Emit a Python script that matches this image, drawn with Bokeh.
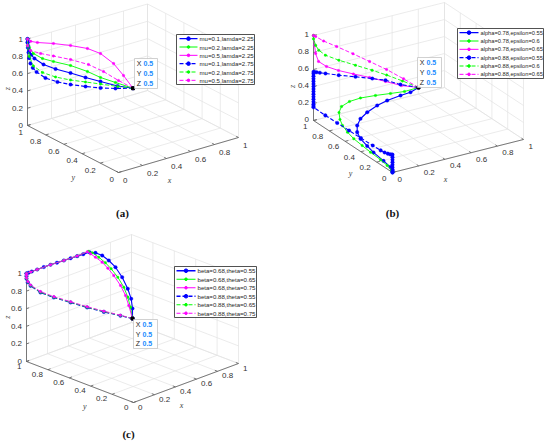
import math
from bokeh.plotting import figure
from bokeh.models import Range1d
from bokeh.embed import file_html
from bokeh.resources import INLINE
from bokeh.core.properties import value

# ---------------- data ----------------
TICKS = [0.0, 0.2, 0.4, 0.6, 0.8, 1.0]
TICK_LABELS = ["0", "0.2", "0.4", "0.6", "0.8", "1"]
END_POINT = (0.5, 0.5, 0.5)
TIP_NAMES = ["X", "Y", "Z"]
TIP_VALUES = ["0.5", "0.5", "0.5"]

# panel (a)
A_LABELS = ["mu=0.1,lamda=2.25", "mu=0.2,lamda=2.25", "mu=0.5,lamda=2.25",
            "mu=0.1,lamda=2.75", "mu=0.2,lamda=2.75", "mu=0.5,lamda=2.75"]
a_mu01_l225 = dict(x=[0.5, 0.427, 0.346, 0.275, 0.204, 0.133, 0.076, 0.033, 0.018, 0.009, 0.004, 0.001, 0.0],
                   y=[0.5, 0.573, 0.654, 0.725, 0.796, 0.867, 0.924, 0.967, 0.982, 0.991, 0.996, 0.999, 1.0],
                   z=[0.5, 0.516, 0.557, 0.593, 0.635, 0.672, 0.716, 0.779, 0.82, 0.868, 0.92, 0.96, 1.0])
a_mu02_l225 = dict(x=[0.5, 0.417, 0.346, 0.284, 0.204, 0.123, 0.071, 0.028, 0.009, 0.0],
                   y=[0.5, 0.583, 0.654, 0.716, 0.796, 0.877, 0.929, 0.972, 0.991, 1.0],
                   z=[0.5, 0.555, 0.603, 0.664, 0.722, 0.757, 0.784, 0.836, 0.903, 1.0])
a_mu05_l225 = dict(x=[0.5, 0.455, 0.408, 0.346, 0.284, 0.204, 0.123, 0.047, 0.015, 0.0],
                   y=[0.5, 0.545, 0.592, 0.654, 0.716, 0.796, 0.877, 0.953, 0.985, 1.0],
                   z=[0.5, 0.641, 0.773, 0.880, 0.930, 0.953, 0.965, 0.966, 0.975, 1.0])
a_mu01_l275 = dict(x=[0.5, 0.417, 0.346, 0.275, 0.204, 0.142, 0.085, 0.043, 0.025, 0.014, 0.008, 0.005, 0.002, 0.0, 0.0],
                   y=[0.5, 0.583, 0.654, 0.725, 0.796, 0.858, 0.915, 0.957, 0.975, 0.986, 0.992, 0.995, 0.998, 1.0, 1.0],
                   z=[0.5, 0.486, 0.482, 0.489, 0.502, 0.523, 0.561, 0.625, 0.67, 0.719, 0.78, 0.845, 0.9, 0.96, 1.0])
a_mu02_l275 = dict(x=[0.5, 0.427, 0.346, 0.275, 0.204, 0.133, 0.071, 0.028, 0.009, 0.0, 0.0],
                   y=[0.5, 0.573, 0.654, 0.725, 0.796, 0.867, 0.929, 0.972, 0.991, 1.0, 1.0],
                   z=[0.5, 0.510, 0.528, 0.541, 0.554, 0.579, 0.623, 0.692, 0.799, 0.925, 1.0])
a_mu05_l275 = dict(x=[0.5, 0.431, 0.360, 0.289, 0.204, 0.123, 0.062, 0.014, 0.0, 0.0],
                   y=[0.5, 0.569, 0.640, 0.711, 0.796, 0.877, 0.938, 0.986, 1.0, 1.0],
                   z=[0.5, 0.580, 0.674, 0.745, 0.791, 0.821, 0.841, 0.869, 0.925, 1.0])

# panel (b)
B_LABELS = ["alpha=0.78,epsilon=0.55", "alpha=0.78,epsilon=0.6", "alpha=0.78,epsilon=0.65",
            "alpha=0.88,epsilon=0.55", "alpha=0.88,epsilon=0.6", "alpha=0.88,epsilon=0.65"]
b_a078_e055 = dict(x=[0.5, 0.4, 0.3, 0.2, 0.14, 0.09, 0.06, 0.04, 0.03, 0.02, 0.015, 0.01, 0.005, 0.002, 0.0, 0.0, 0.0],
                   y=[0.5, 0.435, 0.396, 0.399, 0.426, 0.469, 0.505, 0.513, 0.497, 0.438, 0.345, 0.257, 0.122, 0.029, 0.0, 0.0, 0.0],
                   z=[0.5, 0.523, 0.547, 0.526, 0.473, 0.387, 0.300, 0.223, 0.159, 0.120, 0.095, 0.075, 0.06, 0.045, 0.03, 0.015, 0.0])
b_a078_e06 = dict(x=[0.5, 0.38, 0.28, 0.2, 0.13, 0.08, 0.05, 0.03, 0.02, 0.015, 0.01, 0.008, 0.006, 0.004, 0.002, 0.001, 0.0, 0.0],
                  y=[0.5, 0.478, 0.49, 0.547, 0.621, 0.677, 0.728, 0.727, 0.698, 0.658, 0.586, 0.503, 0.394, 0.285, 0.155, 0.069, 0.013, 0.0],
                  z=[0.5, 0.513, 0.521, 0.494, 0.446, 0.390, 0.312, 0.250, 0.189, 0.145, 0.112, 0.086, 0.074, 0.063, 0.055, 0.040, 0.02, 0.0])
b_a078_e065 = dict(x=[0.5, 0.419, 0.343, 0.267, 0.19, 0.119, 0.062, 0.024, 0.01, 0.005, 0.0],
                   y=[0.5, 0.581, 0.657, 0.733, 0.81, 0.881, 0.938, 0.976, 0.99, 0.995, 1.0],
                   z=[0.5, 0.505, 0.536, 0.566, 0.590, 0.615, 0.649, 0.700, 0.790, 0.884, 1.0])
b_a088_e055 = dict(
    x=[0.5, 0.414, 0.343, 0.28, 0.2, 0.12, 0.057, 0.03, 0.015, 0.005, 0.0,
       0.0, 0.0, 0.0, 0.0, 0.0, 0.0, 0.0, 0.0, 0.0, 0.0, 0.0, 0.0, 0.0, 0.0, 0.0,
       0.0, 0.0, 0.0, 0.0, 0.0, 0.0, 0.0, 0.0, 0.0, 0.0, 0.0,
       0.0, 0.0, 0.0, 0.0, 0.0, 0.0, 0.0],
    y=[0.5, 0.586, 0.657, 0.72, 0.8, 0.88, 0.943, 0.97, 0.985, 0.995, 1.0,
       1.0, 1.0, 1.0, 1.0, 1.0, 1.0, 1.0, 1.0, 1.0, 1.0, 1.0, 1.0, 1.0, 1.0, 1.0,
       0.85, 0.7, 0.55, 0.4, 0.25, 0.15, 0.1, 0.06, 0.03, 0.01, 0.0,
       0.0, 0.0, 0.0, 0.0, 0.0, 0.0, 0.0],
    z=[0.5, 0.516, 0.551, 0.556, 0.559, 0.56, 0.566, 0.569, 0.571, 0.572, 0.572,
       0.55, 0.52, 0.49, 0.46, 0.43, 0.40, 0.37, 0.34, 0.31, 0.28, 0.25, 0.22, 0.19, 0.17, 0.155,
       0.152, 0.155, 0.158, 0.16, 0.164, 0.168, 0.175, 0.185, 0.195, 0.205, 0.21,
       0.18, 0.15, 0.12, 0.09, 0.06, 0.03, 0.0])
b_a088_e06 = dict(x=[0.5, 0.424, 0.348, 0.279, 0.2, 0.121, 0.057, 0.025, 0.01, 0.0, 0.0],
                  y=[0.5, 0.576, 0.652, 0.721, 0.8, 0.879, 0.943, 0.975, 0.99, 1.0, 1.0],
                  z=[0.5, 0.560, 0.613, 0.654, 0.695, 0.736, 0.781, 0.833, 0.888, 0.96, 1.0])
b_a088_e065 = dict(x=[0.5, 0.429, 0.348, 0.267, 0.188, 0.11, 0.048, 0.01, 0.0],
                   y=[0.5, 0.571, 0.652, 0.733, 0.812, 0.89, 0.952, 0.99, 1.0],
                   z=[0.5, 0.586, 0.678, 0.754, 0.827, 0.895, 0.946, 0.990, 1.0])

# panel (c)
C_LABELS = ["beta=0.68,theta=0.55", "beta=0.68,theta=0.65", "beta=0.68,theta=0.75",
            "beta=0.88,theta=0.55", "beta=0.88,theta=0.65", "beta=0.88,theta=0.75"]
c_b068_t055 = dict(x=[0.5, 0.5, 0.51, 0.52, 0.53, 0.55, 0.58, 0.6, 0.6, 0.6, 0.54, 0.483, 0.42, 0.356, 0.29, 0.229, 0.165, 0.102, 0.05, 0.02, 0.0],
                   y=[0.5, 0.5, 0.522, 0.564, 0.626, 0.708, 0.80, 0.881, 0.944, 1.0, 1.0, 1.0, 1.0, 1.0, 1.0, 1.0, 1.0, 1.0, 1.0, 1.0, 1.0],
                   z=[0.5, 0.614, 0.709, 0.799, 0.897, 0.964, 0.984, 0.994, 0.995, 0.976, 0.98, 0.983, 0.987, 0.99, 0.994, 0.998, 1.0, 1.0, 1.0, 1.0, 1.0])
c_b068_t065 = dict(x=[0.5, 0.5, 0.5, 0.51, 0.52, 0.53, 0.54, 0.56, 0.58, 0.59, 0.483, 0.356, 0.229, 0.102, 0.04, 0.0],
                   y=[0.5, 0.519, 0.544, 0.591, 0.657, 0.729, 0.792, 0.874, 0.955, 1.0, 1.0, 1.0, 1.0, 1.0, 1.0, 1.0],
                   z=[0.5, 0.620, 0.722, 0.809, 0.887, 0.945, 0.979, 0.996, 0.999, 0.99, 0.985, 0.99, 0.998, 1.0, 1.0, 1.0])
c_b068_t075 = dict(x=[0.5, 0.5, 0.5, 0.5, 0.51, 0.52, 0.53, 0.55, 0.57, 0.58, 0.483, 0.356, 0.229, 0.102, 0.04, 0.0],
                   y=[0.5, 0.535, 0.565, 0.612, 0.685, 0.750, 0.813, 0.895, 0.961, 1.0, 1.0, 1.0, 1.0, 1.0, 1.0, 1.0],
                   z=[0.5, 0.632, 0.731, 0.823, 0.898, 0.946, 0.981, 0.99, 0.989, 0.99, 0.985, 0.99, 0.998, 1.0, 1.0, 1.0])
c_b088_t055 = dict(x=[0.5, 0.443, 0.365, 0.286, 0.208, 0.129, 0.066, 0.019, 0.006, 0.0, 0.0, 0.0],
                   y=[0.5, 0.557, 0.635, 0.714, 0.792, 0.871, 0.934, 0.981, 0.994, 1.0, 1.0, 1.0],
                   z=[0.5, 0.530, 0.572, 0.620, 0.675, 0.730, 0.785, 0.86, 0.90, 0.94, 0.97, 1.0])
c_b088_t065 = dict(x=[0.5, 0.443, 0.365, 0.286, 0.208, 0.129, 0.066, 0.019, 0.006, 0.0, 0.0, 0.0],
                   y=[0.5, 0.557, 0.635, 0.714, 0.792, 0.871, 0.934, 0.981, 0.994, 1.0, 1.0, 1.0],
                   z=[0.5, 0.533, 0.576, 0.624, 0.679, 0.734, 0.789, 0.864, 0.905, 0.945, 0.975, 1.0])
c_b088_t075 = dict(x=[0.5, 0.443, 0.365, 0.286, 0.208, 0.129, 0.066, 0.019, 0.006, 0.0, 0.0, 0.0],
                   y=[0.5, 0.557, 0.635, 0.714, 0.792, 0.871, 0.934, 0.981, 0.994, 1.0, 1.0, 1.0],
                   z=[0.5, 0.536, 0.580, 0.629, 0.684, 0.740, 0.796, 0.87, 0.91, 0.95, 0.98, 1.0])

# ---------------- styles / layout ----------------
BLUE, GREEN, MAGENTA = "#0000ff", "#00ff00", "#ff00ff"
SERIES_COLORS = [BLUE, GREEN, MAGENTA, BLUE, GREEN, MAGENTA]
SERIES_DASH = ["solid", "solid", "solid", "4 2", "4 2", "4 2"]
SANS = value("Liberation Sans")
SERIF = value("Liberation Serif")

PANELS = [
    dict(series=[a_mu01_l225, a_mu02_l225, a_mu05_l225, a_mu01_l275, a_mu02_l275, a_mu05_l275],
         labels=A_LABELS,
         view=((118, 172), (120, -35), (-91, -47), (0, -86.5)),
         xoff=(4.5, 8), yoff=(-4.5, 7), zoff=(-4.5, 0),
         axlab=dict(x=(169, 180), y=(72.7, 176.7), z=(7, 88.3)),
         legend=(176, 34, 254, 84, 179, 197, 199, "6.1px"),
         tip=(134, 58, 157, 88),
         caption=("(a)", 122, 212)),
    dict(series=[b_a078_e055, b_a078_e06, b_a078_e065, b_a088_e055, b_a088_e06, b_a088_e065],
         labels=B_LABELS,
         view=((392, 172), (131, -33), (-79, -52), (0, -85)),
         xoff=(5, 6.5), yoff=(-6, 5.5), zoff=(-4.5, -1),
         axlab=dict(x=(445, 179.3), y=(350, 173.3), z=(292, 86)),
         legend=(457, 28, 543, 78, 459, 478, 480, "5.7px"),
         tip=(417, 57, 441, 87),
         caption=("(b)", 392, 212)),
    dict(series=[c_b068_t055, c_b068_t065, c_b068_t075, c_b088_t055, c_b088_t065, c_b088_t075],
         labels=C_LABELS,
         view=((133, 402), (105, -39), (-107, -41), (0, -88)),
         xoff=(4.5, 4.5), yoff=(-5, 4.5), zoff=(-4.5, 0),
         axlab=dict(x=(181, 405), y=(84.3, 405.7), z=(7, 316.7)),
         legend=(174, 266, 256, 317, 176, 195, 197, "6.1px"),
         tip=(133, 319, 157, 348),
         caption=("(c)", 128, 433)),
]


def proj(view, xs, ys, zs):
    O, ex, ey, ez = view
    sx = [O[0] + x * ex[0] + y * ey[0] + z * ez[0] for x, y, z in zip(xs, ys, zs)]
    sy = [O[1] + x * ex[1] + y * ey[1] + z * ez[1] for x, y, z in zip(xs, ys, zs)]
    return sx, sy


p = figure(width=550, height=446, x_range=Range1d(0, 550), y_range=Range1d(446, 0),
           output_backend="svg", toolbar_location=None, min_border=0, tools="")
p.axis.visible = False
p.grid.visible = False
p.outline_line_color = None
p.background_fill_color = "white"
p.border_fill_color = "white"

for P in PANELS:
    v = P["view"]
    # grid lines on the back planes
    gx, gy = [], []
    segs = []
    for t in TICKS:
        segs += [((t, 0, 0), (t, 1, 0)), ((0, t, 0), (1, t, 0)),
                 ((t, 1, 0), (t, 1, 1)), ((0, 1, t), (1, 1, t)),
                 ((1, t, 0), (1, t, 1)), ((1, 0, t), (1, 1, t))]
    for a, b in segs:
        sx, sy = proj(v, [a[0], b[0]], [a[1], b[1]], [a[2], b[2]])
        gx.append(sx)
        gy.append(sy)
    p.multi_line(gx, gy, line_color="#e2e2e2", line_width=0.7)

    # axis lines and ticks
    ax_segs = [((0, 0, 0), (1, 0, 0)), ((0, 0, 0), (0, 1, 0)), ((0, 1, 0), (0, 1, 1))]
    for t in TICKS:
        ax_segs += [((t, 0, 0), (t, 0.025, 0)), ((0, t, 0), (0.025, t, 0)), ((0, 1, t), (0.025, 1, t))]
    axx, axy = [], []
    for a, b in ax_segs:
        sx, sy = proj(v, [a[0], b[0]], [a[1], b[1]], [a[2], b[2]])
        axx.append(sx)
        axy.append(sy)
    p.multi_line(axx, axy, line_color="#5a5a5a", line_width=0.8)

    # tick labels
    zeros = [0.0] * len(TICKS)
    ones = [1.0] * len(TICKS)
    sx, sy = proj(v, TICKS, zeros, zeros)
    p.text([s + P["xoff"][0] for s in sx], [s + P["xoff"][1] for s in sy], TICK_LABELS,
           text_align="left", text_baseline="middle", text_font=SANS, text_font_size="8px", text_color="#333333")
    sx, sy = proj(v, zeros, TICKS, zeros)
    p.text([s + P["yoff"][0] for s in sx], [s + P["yoff"][1] for s in sy], TICK_LABELS,
           text_align="right", text_baseline="middle", text_font=SANS, text_font_size="8px", text_color="#333333")
    sx, sy = proj(v, zeros, ones, TICKS)
    p.text([s + P["zoff"][0] for s in sx], [s + P["zoff"][1] for s in sy], TICK_LABELS,
           text_align="right", text_baseline="middle", text_font=SANS, text_font_size="8px", text_color="#333333")

    # axis labels
    al = P["axlab"]
    p.text([al["x"][0], al["y"][0]], [al["x"][1], al["y"][1]], ["x", "y"], text_align="center",
           text_baseline="middle", text_font=SERIF, text_font_style="italic", text_font_size="8px",
           text_color="#404040")
    p.text([al["z"][0]], [al["z"][1]], ["z"], text_align="center", text_baseline="middle",
           text_font=SERIF, text_font_style="italic", text_font_size="8px", text_color="#404040",
           angle=math.pi / 2)

    # curves
    for s, col, dash in zip(P["series"], SERIES_COLORS, SERIES_DASH):
        sx, sy = proj(v, s["x"], s["y"], s["z"])
        lw = 1.1 if col == BLUE else 0.9
        ms = 3.6 if col == BLUE else 2.6
        p.line(sx, sy, line_color=col, line_width=lw, line_dash=dash)
        p.scatter(sx, sy, marker="circle", size=ms, fill_color=col, line_color=col, line_width=0.3)

    # data tip
    ex_, ey_ = proj(v, [END_POINT[0]], [END_POINT[1]], [END_POINT[2]])
    p.scatter(ex_, ey_, marker="square", size=3, fill_color="black", line_color="black")
    x0, y0, x1, y1 = P["tip"]
    p.quad(left=[x0], right=[x1], top=[y0], bottom=[y1], fill_color="white", fill_alpha=0.92,
           line_color="#bdbdbd", line_width=0.7)
    h = (y1 - y0) / 3.0
    rows = [y0 + h * (i + 0.5) for i in range(3)]
    p.text([x0 + 2.2] * 3, rows, TIP_NAMES, text_align="left", text_baseline="middle",
           text_font=SANS, text_font_size="7px", text_color="#262626")
    p.text([x0 + 9.0] * 3, rows, TIP_VALUES, text_align="left", text_baseline="middle",
           text_font=SANS, text_font_size="7px", text_font_style="bold", text_color="#1a8cff")

    # legend
    L0, T0, R0, B0, lx0, lx1, tx, lfs = P["legend"]
    p.quad(left=[L0], right=[R0], top=[T0], bottom=[B0], fill_color="white",
           line_color="#262626", line_width=0.8)
    eh = (B0 - T0) / 6.0
    for i, (lab, col, dash) in enumerate(zip(P["labels"], SERIES_COLORS, SERIES_DASH)):
        yy = T0 + eh * (i + 0.5)
        lw = 1.3 if col == BLUE else 1.0
        p.line([lx0, lx1], [yy, yy], line_color=col, line_width=lw, line_dash=dash)
        p.scatter([(lx0 + lx1) / 2.0], [yy], marker="circle", size=3.6 if col == BLUE else 2.6,
                  fill_color=col, line_color=col)
        p.text([tx], [yy], [lab], text_align="left", text_baseline="middle", text_font=SANS,
               text_font_size=lfs, text_color="#262626")

    # caption
    cap, cx, cy = P["caption"]
    p.text([cx], [cy], [cap], text_align="center", text_baseline="middle", text_font=SERIF,
           text_font_style="bold", text_font_size="11px", text_color="#111111")

open("out.html", "w").write(file_html(p, INLINE))
